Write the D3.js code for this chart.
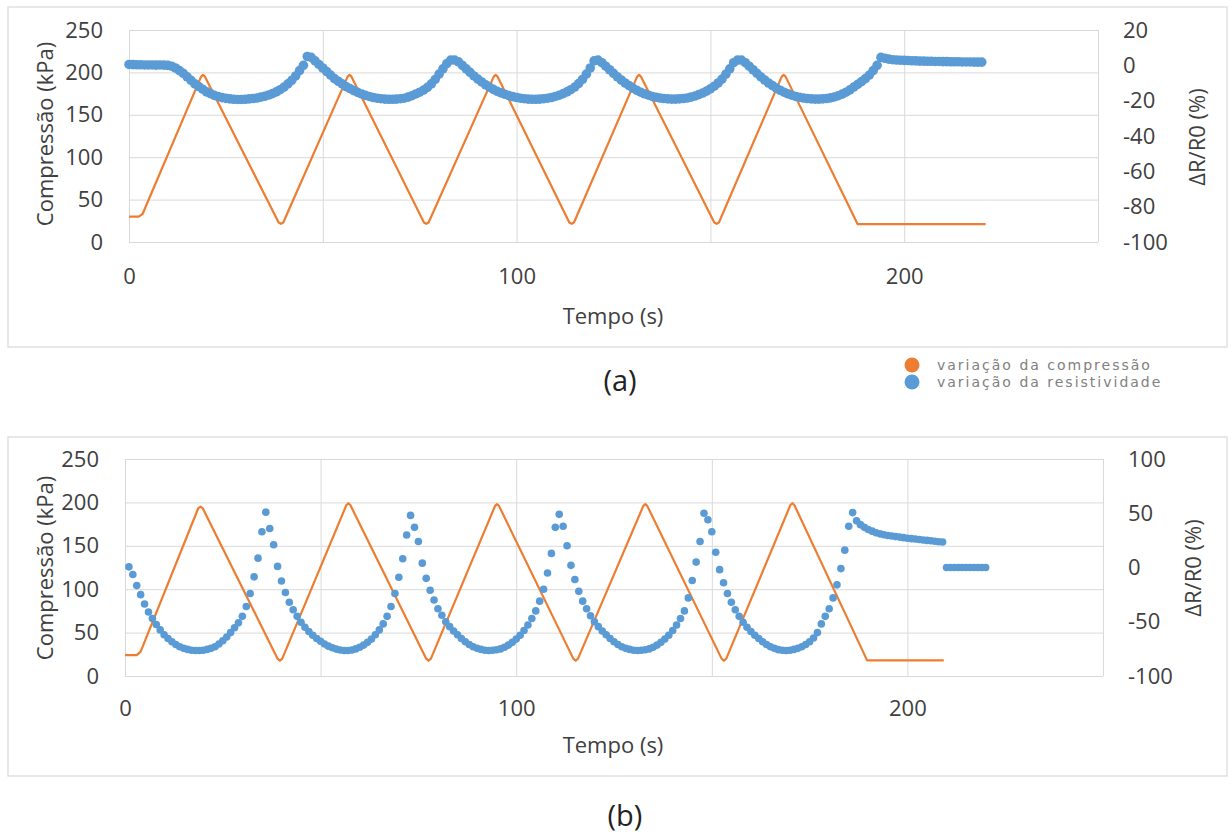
<!DOCTYPE html>
<html><head><meta charset="utf-8">
<script src="https://cdn.jsdelivr.net/npm/d3@7"></script>
<style>
body{margin:0;background:#fff;}
text{font-family:"Open Sans",sans-serif;}
</style>
</head><body>
<svg id="c" width="1232" height="834"></svg>
<script>
// ---------- DATA ----------
const xGridValues = [0, 50, 100, 150, 200, 250];
const xTickLabels = [0, 100, 200];
const leftTicks = [0, 50, 100, 150, 200, 250];
const topRightTicks = [-100, -80, -60, -40, -20, 0, 20];
const bottomRightTicks = [-100, -50, 0, 50, 100];

const xTitle = "Tempo (s)";
const leftTitle = "Compressão (kPa)";
const rightTitle = "ΔR/R0 (%)";
const seriesNames = ["variação da compressão", "variação da resistividade"];
const panelLabels = ["(a)", "(b)"];

// (a) compressão [t (s), kPa]
const topCompression = [[0,30],[2.5,30],[3.5,33],[18.6,195],[19.1,197],[19.6,195],[38.6,23],[39.2,21.5],[39.8,23],[56.4,195],[56.9,197],[57.4,195],[76.1,23],[76.7,21.5],[77.3,23],[94.1,195],[94.6,197],[95.1,195],[113.6,23],[114.2,21.5],[114.8,23],[131.1,195],[131.6,197],[132.1,195],[151,23],[151.6,21.5],[152.2,23],[168.4,195],[168.9,197],[169.4,195],[188,21],[221,21]];

// (a) resistividade [t (s), ΔR/R0 %]
const topResistivity = [[0,0.5],[1,0.4],[2,0.3],[3,0.3],[4,0.2],[5,0.2],[6,0.2],[7,0.1],[8,0.2],[9,0.1],[10,0],[11,-0.5],[12,-1.5],[13,-3],[14,-4.5],[15,-6.5],[16,-8.5],[17,-10.5],[18,-12],[19,-13.5],[20,-15],[21,-16],[22,-17],[23,-17.7],[24,-18.3],[25,-18.7],[26,-19],[27,-19.2],[28,-19.3],[29,-19.3],[30,-19.2],[31,-19],[32,-18.8],[33,-18.5],[34,-18],[35,-17.5],[36,-16.8],[37,-16],[38,-15],[39,-13.8],[40,-12.3],[41,-10.5],[42,-8.5],[43,-6],[44,-3],[45,0],[46,5],[47,4.5],[48,2.5],[49,0.5],[50,-1.5],[51,-3.5],[52,-5.5],[53,-7.5],[54,-9],[55,-10.5],[56,-12],[57,-13.2],[58,-14.3],[59,-15.3],[60,-16.2],[61,-17],[62,-17.6],[63,-18.2],[64,-18.6],[65,-18.9],[66,-19.1],[67,-19.2],[68,-19.2],[69,-19.1],[70,-18.9],[71,-18.6],[72,-18],[73,-17.2],[74,-16.2],[75,-15.2],[76,-14],[77,-12.5],[78,-10.5],[79,-8],[80,-5],[81,-2],[82,1],[83,3],[84,3],[85,2],[86,0],[87,-2],[88,-4],[89,-6],[90,-7.8],[91,-9.4],[92,-11],[93,-12.4],[94,-13.6],[95,-14.7],[96,-15.6],[97,-16.4],[98,-17.1],[99,-17.7],[100,-18.2],[101,-18.6],[102,-18.9],[103,-19.1],[104,-19.2],[105,-19.2],[106,-19.1],[107,-18.9],[108,-18.6],[109,-18.2],[110,-17.6],[111,-16.9],[112,-16],[113,-15],[114,-13.8],[115,-12.3],[116,-10.3],[117,-8],[118,-5],[119,-1.5],[120,2.5],[121,3],[122,1.5],[123,-0.5],[124,-2.5],[125,-4.5],[126,-6.5],[127,-8.3],[128,-10],[129,-11.5],[130,-12.9],[131,-14.1],[132,-15.2],[133,-16.1],[134,-16.9],[135,-17.6],[136,-18.1],[137,-18.5],[138,-18.8],[139,-19],[140,-19.1],[141,-19.1],[142,-19],[143,-18.8],[144,-18.5],[145,-18],[146,-17.4],[147,-16.6],[148,-15.7],[149,-14.6],[150,-13.3],[151,-11.8],[152,-10],[153,-7.8],[154,-5],[155,-2],[156,1.5],[157,3],[158,3],[159,1.5],[160,-0.5],[161,-2.5],[162,-4.5],[163,-6.5],[164,-8.3],[165,-10],[166,-11.5],[167,-12.9],[168,-14.1],[169,-15.2],[170,-16.1],[171,-16.9],[172,-17.6],[173,-18.1],[174,-18.5],[175,-18.8],[176,-19],[177,-19.1],[178,-19.1],[179,-19],[180,-18.8],[181,-18.4],[182,-17.9],[183,-17.2],[184,-16.3],[185,-15.2],[186,-13.9],[187,-12.3],[188,-10.8],[189,-9.2],[190,-7.5],[191,-5.5],[192,-3],[193,0],[194,4.5],[195,4],[196,3.5],[197,3.2],[198,3],[199,2.9],[200,2.8],[201,2.7],[202,2.6],[203,2.5],[204,2.4],[205,2.4],[206,2.3],[207,2.3],[208,2.2],[209,2.2],[210,2.1],[211,2.1],[212,2],[213,2],[214,2],[215,1.9],[216,1.9],[217,1.9],[218,1.8],[219,1.8],[220,1.8]];

// (b) compressão [t (s), kPa]
const bottomCompression = [[0,24],[3,24],[4,28],[18.7,193],[19.3,195],[19.9,193],[39,20],[39.6,17.5],[40.2,20],[56.6,197],[57.1,199],[57.6,197],[77,20],[77.6,17.5],[78.2,20],[94.6,196],[95.1,198],[95.6,196],[114.6,20],[115.2,17.5],[115.8,20],[132.5,196],[133,198],[133.5,196],[152.5,20],[153.1,17.5],[153.7,20],[170.1,197],[170.6,199],[171.1,197],[189.7,18],[209.3,18]];

// (b) resistividade [t (s), ΔR/R0 %]
const bottomResistivity = [[1,0.6],[2,-6.5],[3,-16.7],[4,-25],[5,-33.6],[6,-41],[7,-47],[8,-52.5],[9,-57.5],[10,-62],[11,-65.5],[12,-68.5],[13,-71],[14,-73],[15,-74.5],[16,-75.5],[17,-76.2],[18,-76.5],[19,-76.5],[20,-76.2],[21,-75.5],[22,-74.5],[23,-73],[24,-70.5],[25,-67.5],[26,-64],[27,-60],[28,-55.5],[29,-51],[30,-45],[31,-36],[32,-24],[33,-8.6],[34,8.6],[35,33],[36,51],[37,36],[38,21],[39,1],[40,-12.5],[41,-23],[42,-32],[43,-39],[44,-45],[45,-50.5],[46,-55],[47,-59],[48,-62.5],[49,-65.5],[50,-68],[51,-70.5],[52,-72.5],[53,-74],[54,-75.2],[55,-76],[56,-76.5],[57,-76.5],[58,-76],[59,-75],[60,-73.5],[61,-71.5],[62,-69],[63,-66],[64,-62],[65,-57.5],[66,-52],[67,-45],[68,-36],[69,-24],[70,-9],[71,8],[72,30],[73,48],[74,37],[75,24],[76,4],[77,-10],[78,-21],[79,-30],[80,-38],[81,-44],[82,-50],[83,-54.5],[84,-58.5],[85,-62],[86,-65.5],[87,-68.5],[88,-71],[89,-73],[90,-74.5],[91,-75.5],[92,-76.3],[93,-76.5],[94,-76.3],[95,-75.8],[96,-75],[97,-73.5],[98,-71.5],[99,-69],[100,-66],[101,-62.5],[102,-58],[103,-53],[104,-47],[105,-40],[106,-31],[107,-20],[108,-5],[109,13],[110,37],[111,49],[112,38],[113,20],[114,2],[115,-11],[116,-22],[117,-31],[118,-38],[119,-44.5],[120,-50],[121,-54.5],[122,-58.5],[123,-62],[124,-65.5],[125,-68.5],[126,-71],[127,-73],[128,-74.5],[129,-75.5],[130,-76.3],[131,-76.5],[132,-76.3],[133,-75.8],[134,-75],[135,-73.5],[136,-71.5],[137,-69],[138,-66],[139,-62.5],[140,-58],[141,-53],[142,-47],[143,-40],[144,-28],[145,-12],[146,5],[147,24],[148,50],[149,44],[150,33],[151,14],[152,-2],[153,-14],[154,-24],[155,-32],[156,-39],[157,-45],[158,-50.5],[159,-55],[160,-59],[161,-62.5],[162,-65.5],[163,-68.5],[164,-71],[165,-73],[166,-74.5],[167,-75.7],[168,-76.3],[169,-76.5],[170,-76.2],[171,-75.5],[172,-74.5],[173,-73],[174,-71],[175,-68.5],[176,-65],[177,-60],[178,-52],[179,-45],[180,-38],[181,-28],[182,-16],[183,-1],[184,16],[185,38],[186,50.6],[187,43],[188,39.5],[189,37],[190,35],[191,33.5],[192,32],[193,31],[194,30.2],[195,29.5],[196,29],[197,28.5],[198,28],[199,27.5],[200,27],[201,26.6],[202,26.2],[203,25.8],[204,25.4],[205,25],[206,24.6],[207,24.2],[208,23.8],[209,23.5],[210,0],[211,0],[212,0],[213,0],[214,0],[215,0],[216,0],[217,0],[218,0],[219,0],[220,0]];

// ---------- DRAW ----------
const ORANGE = "#ED7D31", BLUE = "#5B9BD5", GRID = "#D9D9D9", TXT = "#404040";
const svg = d3.select("#c");
const fmt = d => String(d);

function drawPanel(cfg){
  const g = svg.append("g");
  g.append("rect").attr("x", cfg.frame[0]).attr("y", cfg.frame[1])
    .attr("width", cfg.frame[2]).attr("height", cfg.frame[3])
    .attr("fill", "#fff").attr("stroke", GRID).attr("stroke-width", 1.2);

  const x = d3.scaleLinear().domain([0, 250]).range([cfg.left, cfg.right]);
  const yL = d3.scaleLinear().domain([0, 250]).range([cfg.bottom, cfg.top]);
  const yR = d3.scaleLinear().domain(cfg.rightDomain).range([cfg.bottom, cfg.top]);

  g.append("g").attr("transform", `translate(0,${cfg.bottom})`)
    .call(d3.axisBottom(x).tickValues(xGridValues).tickSize(-(cfg.bottom - cfg.top)).tickFormat(""))
    .call(a => a.select(".domain").remove())
    .call(a => a.selectAll("line").attr("stroke", GRID));
  g.append("g").attr("transform", `translate(${cfg.left},0)`)
    .call(d3.axisLeft(yL).tickValues(leftTicks).tickFormat(fmt).tickSize(-(cfg.right - cfg.left)).tickPadding(26))
    .call(a => a.select(".domain").remove())
    .call(a => a.selectAll("line").attr("stroke", GRID))
    .call(a => a.selectAll("text").attr("fill", TXT).style("font-size", "22px").style("font-family", "Open Sans"));
  g.append("g").attr("transform", `translate(0,${cfg.bottom})`)
    .call(d3.axisBottom(x).tickValues(xTickLabels).tickFormat(fmt).tickSize(0).tickPadding(cfg.xPad))
    .call(a => a.select(".domain").remove())
    .call(a => a.selectAll("text").attr("fill", TXT).style("font-size", "22px").style("font-family", "Open Sans"));
  g.append("g").attr("transform", `translate(${cfg.right},0)`)
    .call(d3.axisRight(yR).tickValues(cfg.rightTicks).tickFormat(fmt).tickSize(0).tickPadding(cfg.rPad))
    .call(a => a.select(".domain").remove())
    .call(a => a.selectAll("text").attr("fill", TXT).style("font-size", "22px").style("font-family", "Open Sans"));

  g.append("text").attr("x", 613).attr("y", cfg.xTitleY).attr("text-anchor", "middle")
    .attr("fill", TXT).style("font-size", "22px").text(xTitle);
  g.append("text").attr("transform", `translate(${cfg.lTitle[0]},${cfg.lTitle[1]}) rotate(-90)`)
    .attr("text-anchor", "middle").attr("dy", "0.35em")
    .attr("fill", TXT).style("font-size", "22px").text(leftTitle);
  g.append("text").attr("transform", `translate(${cfg.rTitle[0]},${cfg.rTitle[1]}) rotate(-90)`)
    .attr("text-anchor", "middle").attr("dy", "0.35em")
    .attr("fill", TXT).style("font-size", "22px").text(rightTitle);

  const line = d3.line().x(d => x(d[0])).y(d => yL(d[1]));
  g.append("path").datum(cfg.comp).attr("d", line)
    .attr("fill", "none").attr("stroke", ORANGE).attr("stroke-width", 2.2).attr("stroke-linejoin", "round");

  g.append("g").selectAll("circle").data(cfg.res).join("circle")
    .attr("cx", d => x(d[0])).attr("cy", d => yR(d[1])).attr("r", cfg.dotR)
    .attr("fill", BLUE);
}

drawPanel({
  frame: [8, 7, 1219, 340],
  left: 129, right: 1098, top: 30, bottom: 242,
  rightDomain: [-100, 20], rightTicks: topRightTicks,
  xPad: 26, rPad: 25, xTitleY: 324,
  lTitle: [45, 134], rTitle: [1197, 137],
  comp: topCompression, res: topResistivity, dotR: 4.8
});
drawPanel({
  frame: [8, 437, 1219, 339],
  left: 125, right: 1103, top: 459, bottom: 676,
  rightDomain: [-100, 100], rightTicks: bottomRightTicks,
  xPad: 24, rPad: 25, xTitleY: 753,
  lTitle: [45, 568], rTitle: [1193, 568],
  comp: bottomCompression, res: bottomResistivity, dotR: 3.8
});

svg.append("text").attr("x", 620).attr("y", 391).attr("text-anchor", "middle")
  .attr("fill", "#222").style("font-size", "29px").text(panelLabels[0]);
svg.append("text").attr("x", 625).attr("y", 826).attr("text-anchor", "middle")
  .attr("fill", "#222").style("font-size", "29px").text(panelLabels[1]);

const legend = svg.append("g");
[ORANGE, BLUE].forEach((c, i) => {
  legend.append("circle").attr("cx", 912).attr("cy", 365 + i * 17).attr("r", 7.5).attr("fill", c);
  legend.append("text").attr("x", 937).attr("y", 365 + i * 17).attr("dy", "0.36em")
    .attr("fill", "#808080").style("font-family", "DejaVu Sans").style("font-size", "14px")
    .style("letter-spacing", "2px")
    .text(seriesNames[i]);
});
</script>
</body></html>
